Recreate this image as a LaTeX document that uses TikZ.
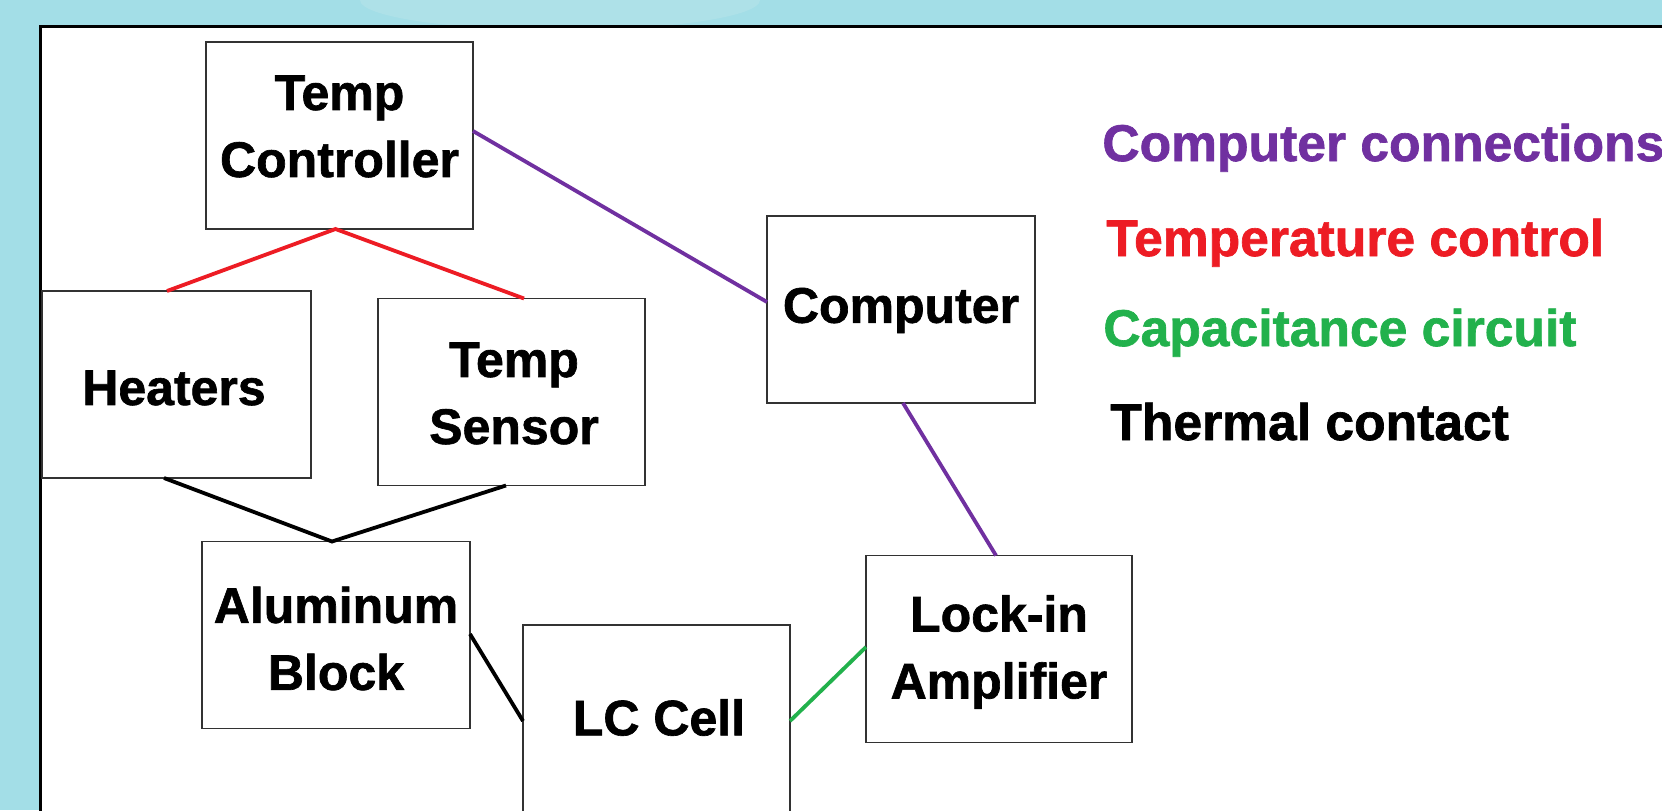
\documentclass[tikz,border=0pt]{standalone}
\usepackage{fontspec}
\setmainfont{Liberation Sans}
\newfontfamily\heavyfont[FakeBold=1.3]{Liberation Sans Bold}
\usetikzlibrary{calc}
\definecolor{bgc}{RGB}{163,222,231}
\definecolor{bgl}{RGB}{196,231,235}
\definecolor{cpurple}{RGB}{112,48,160}
\definecolor{cred}{RGB}{237,28,36}
\definecolor{cgreen}{RGB}{34,177,76}
\definecolor{boxline}{RGB}{50,50,50}
\begin{document}
\begin{tikzpicture}[x=0.5pt,y=-0.5pt,
  box/.style={draw=boxline, line width=0.9pt, minimum width=133.5pt, minimum height=93.5pt, inner sep=0pt, outer sep=0pt, fill=white},
  lbl/.style={font=\fontsize{25}{33.5}\selectfont\heavyfont, align=center, inner sep=0pt},
  leg/.style={font=\fontsize{25.8}{33.5}\selectfont\heavyfont, anchor=base west, inner sep=0pt},
  wire/.style={line width=1.9pt}]
\useasboundingbox (0,0) rectangle (1662,810);
\fill[bgc] (0,0) rectangle (1662,810);
\fill[bgl, opacity=0.35] (560,0) ellipse (200 and 30);
\draw[line width=1.5pt, fill=white] (40,26) rectangle (1720,860);
% boxes
\node[box] (tc) at (339.5,135.5) {};
\node[box, minimum width=134.5pt] (heat) at (176.5,384.5) {};
\node[box] (sens) at (511.5,392) {};
\node[box, minimum width=134pt] (comp) at (901,309.5) {};
\node[box, minimum width=134pt] (al) at (336,635) {};
\node[box] (lc) at (656.5,718.5) {};
\node[box, minimum width=133pt] (lock) at (999,649) {};
% labels
\node[lbl] (tcl) at (339.5,126.5) {Temp\\Controller};
\node[lbl] (heatl) at (174,388) {Heaters};
\node[lbl] (sensl) at (514,393.5) {Temp\\Sensor};
\node[lbl] (compl) at (901,310.5) {Computer};
\node[lbl] (all) at (336,638.5) {Aluminum\\Block};
\node[lbl] (lcl) at (659,717.5) {LC Cell};
\node[lbl] (lockl) at (999,652) {Lock-in\\Amplifier};
% connectors
\draw[wire, cpurple] ($(tc.east)+(0,-4.5)$) -- ($(comp.west)+(0,-7.5)$);
\draw[wire, cpurple] ($(comp.south)+(2,0)$) -- ($(lock.north)+(-3,0)$);
\draw[wire, cred] ($(heat.north)+(-9.5,0)$) -- ($(tc.south)+(-4,0)$) -- ($(sens.north)+(12.5,0)$);
\draw[wire, black] ($(heat.south)+(-12.5,0)$) -- ($(al.north)+(-4,0)$) -- ($(sens.south)+(-5.5,0)$);
\draw[wire, black] ($(al.east)+(0,-1)$) -- ($(lc.west)+(0,2.5)$);
\draw[wire, cgreen] ($(lc.east)+(0,2.5)$) -- ($(lock.west)+(0,-2)$);
% legend
\node[leg, text=cpurple] (leg1) at (1102,161) {Computer connections};
\node[leg, text=cred] (leg2) at (1106,256) {Temperature control};
\node[leg, text=cgreen] (leg3) at (1103,346) {Capacitance circuit};
\node[leg, text=black] (leg4) at (1110,440) {Thermal contact};
\end{tikzpicture}
\end{document}
